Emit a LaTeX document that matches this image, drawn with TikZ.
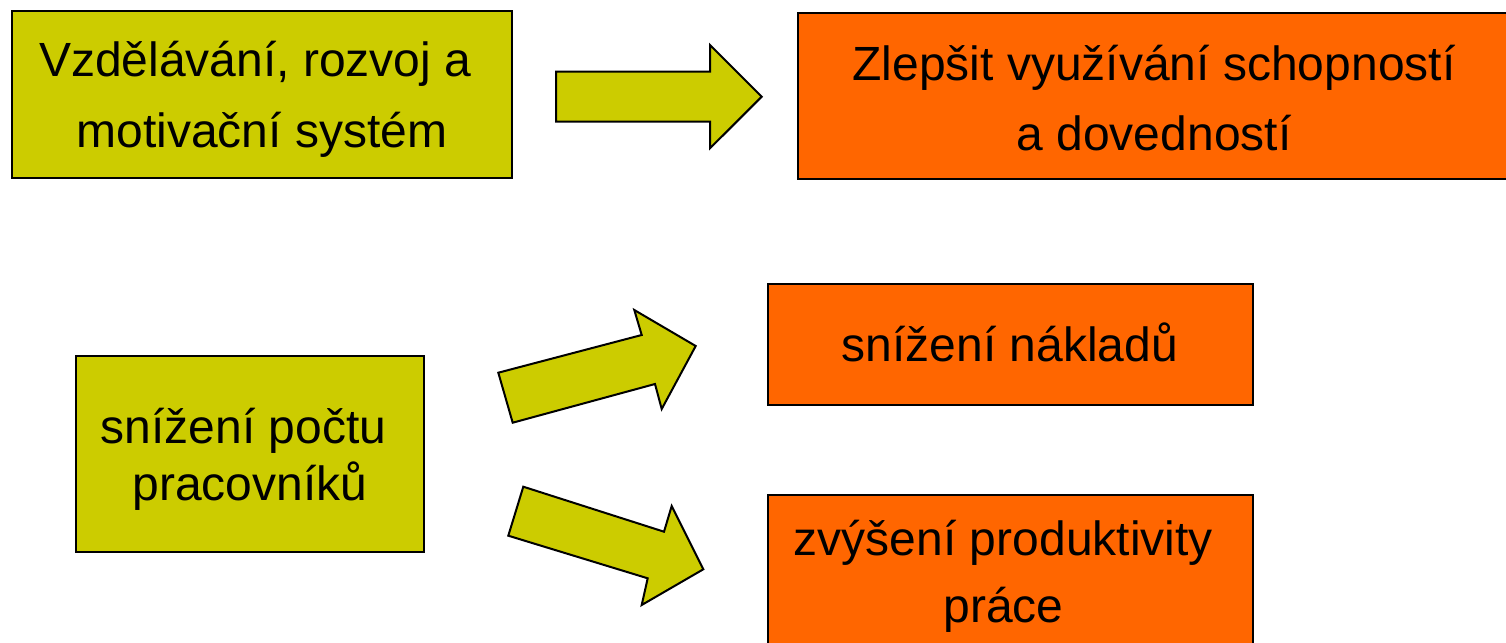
\documentclass[tikz,border=0pt]{standalone}
\usepackage{fontspec}
\setmainfont{Liberation Sans}
\begin{document}
\begin{tikzpicture}[x=1pt,y=-1pt,
  boxline/.style={draw=black,line width=2pt},
  olivebox/.style={boxline,fill=olivefill,inner sep=0pt,outer sep=0pt},
  orangebox/.style={boxline,fill=orangefill,inner sep=0pt,outer sep=0pt},
  blockarrow/.style={draw=black,line width=2pt,fill=olivefill,line join=miter},
  txt/.style={anchor=base,inner sep=0pt,font=\fontsize{48}{58}\selectfont}]
\definecolor{olivefill}{HTML}{CCCC00}
\definecolor{orangefill}{HTML}{FF6600}
\useasboundingbox (0,0) rectangle (1506,642);
\clip (0,0) rectangle (1506,642);
\fill[white] (0,0) rectangle (1506,642);

% boxes
\node[olivebox,minimum width=500pt,minimum height=166pt] (edu) at (261.8,94.5) {};
\node[orangebox,minimum width=716pt,minimum height=166pt] (skills) at (1156,96) {};
\node[olivebox,minimum width=348pt,minimum height=196pt] (staff) at (250,454) {};
\node[orangebox,minimum width=485pt,minimum height=121pt] (costs) at (1010,344.5) {};
\node[orangebox,minimum width=485pt,minimum height=180pt] (prod) at (1010,585) {};

% texts
\node[txt] (edu1) at (edu.center |- 0,77) {Vzdělávání, rozvoj a\hspace*{13.3pt}};
\node[txt] (edu2) at (edu.center |- 0,147) {motivační systém};
\node[txt] (sk1) at (1154,80) {Zlepšit využívání schopností};
\node[txt] (sk2) at (1154,150) {a dovedností};
\node[txt] (st1) at (staff.center |- 0,443.5) {snížení počtu\hspace*{13.3pt}};
\node[txt] (st2) at (staff.center |- 0,500) {pracovníků};
\node[txt] (co1) at (costs.center |- 0,361.5) {snížení nákladů};
\node[txt] (pr1) at (costs.center |- 0,555) {zvýšení produktivity\hspace*{13.3pt}};
\node[txt] (pr2) at (costs.center |- 0,622) {práce\hspace*{13.3pt}};

% block arrows
\draw[blockarrow] (556,71.7) -- (710,71.7) -- (710,45) -- (761.7,96.7)
  -- (710,148.3) -- (710,121.7) -- (556,121.7) -- cycle;
\draw[blockarrow] (498.3,372.7) -- (641.7,335) -- (634.3,310) -- (695.7,346)
  -- (661.7,409) -- (655,384) -- (512.7,422.7) -- cycle;
\draw[blockarrow] (523.3,486.7) -- (664,531.7) -- (671.7,506) -- (703.3,569.3)
  -- (641.7,605) -- (647.7,578.3) -- (508.3,535.7) -- cycle;
\end{tikzpicture}
\end{document}
